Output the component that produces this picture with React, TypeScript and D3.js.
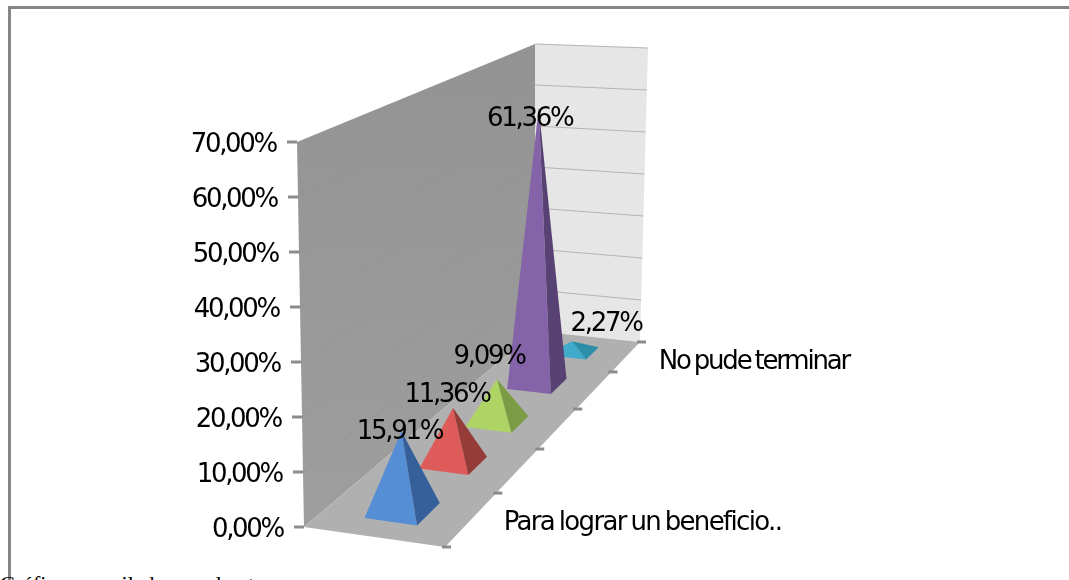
import React from "react";
import * as d3 from "d3";

const valueTicks = [0, 10, 20, 30, 40, 50, 60, 70];
const categories = ["Para lograr un beneficio..", "", "", "", "No pude terminar"];
const values = [15.91, 11.36, 9.09, 61.36, 2.27];
const valueLabels = ["15,91%", "11,36%", "9,09%", "61,36%", "2,27%"];
const frontColors = ["#558ed5", "#dd5c5a", "#aed465", "#8464a8", "#3fabcb"];
const sideColors = ["#36619a", "#953a38", "#7b9b45", "#594273", "#2e8ea9"];
const tickFmt = (v: number) => d3.format(".2f")(v).replace(".", ",") + "%";

// perspective of the category axis: fraction of depth per category boundary
const depth = d3.scaleLinear().domain([0, 1, 2, 3, 4, 5]).range([0, 0.263, 0.478, 0.673, 0.854, 1]);
const across = d3.scaleLinear().domain([0, 1]).range([0, 1]);
const height = d3.scaleLinear().domain([0, 70]).range([0, 1]);

type P = [number, number];
// corners of the plot box: [depth][across][height]
const box: P[][][] = [
  [[[304, 527], [297, 142]], [[445, 547], [441, 246]]],
  [[[535, 331], [535, 44]], [[640, 342], [648, 48]]],
];
const lerp = (a: P, b: P, t: number): P => [a[0] + (b[0] - a[0]) * t, a[1] + (b[1] - a[1]) * t];
function project(cat: number, side: number, val: number): P {
  const u = depth(cat), v = across(side), w = height(val);
  const f = (i: number, j: number) => lerp(box[i][j][0], box[i][j][1], w);
  return lerp(lerp(f(0, 0), f(0, 1), v), lerp(f(1, 0), f(1, 1), v), u);
}
const poly = (pts: P[]) => d3.line()(pts) + "Z";

const F = "'DejaVu Sans', sans-serif";
const TICK = "#8c8c8c";
const APEX = 1.04;
const labelDx = [-2, -6, -8, -9, 34];
const labelDy = [8, -6, -15, 18, -10];

export default function App() {
  const n = categories.length;
  const halfU = 0.21, halfV = 0.19;
  const pyramids = values.map((v, k) => {
    const c = k + 0.5;
    return {
      k,
      apex: project(c, 0.5, v * APEX),
      fl: project(c - halfU, 0.5 - halfV, 0),
      fr: project(c - halfU, 0.5 + halfV, 0),
      br: project(c + halfU, 0.5 + halfV, 0),
    };
  });
  return (
    <svg width={1069} height={580} style={{ position: "absolute", left: 0, top: 0, display: "block" }}>
      <defs>
        <filter id="soft" x="-5%" y="-5%" width="110%" height="110%">
          <feGaussianBlur stdDeviation="0.6" />
        </filter>
        <filter id="softText" x="-5%" y="-20%" width="110%" height="140%">
          <feGaussianBlur stdDeviation="0.4" />
        </filter>
        <linearGradient id="wall" x1="0" y1="0" x2="0" y2="1">
          <stop offset="0" stopColor="#939393" />
          <stop offset="1" stopColor="#9e9e9e" />
        </linearGradient>
      </defs>
      <path d="M9.5,580V7.5H1069" fill="none" stroke="#868686" strokeWidth={3} />
      <text x={0} y={591} fontFamily="'Liberation Serif', serif" fontSize={22}>Gráfico compilado por el autor</text>
      <g filter="url(#soft)">
        <path d={poly([project(0, 0, 0), project(0, 0, 70), project(5, 0, 70), project(5, 0, 0)])} fill="url(#wall)" />
        <path d={poly([project(5, 0, 0), project(5, 0, 70), project(5, 1, 70), project(5, 1, 0)])} fill="#e6e6e6" />
        <path d={poly([project(0, 0, 0), project(0, 1, 0), project(5, 1, 0), project(5, 0, 0)])} fill="#b0b0b0" />
        {valueTicks.map((t) => (
          <g key={t}>
            {t > 0 && t < 70 && <path d={d3.line()([project(0, 0, t), project(5, 0, t)])!} stroke="#919191" strokeWidth={0.5} fill="none" />}
            {t > 0 && <path d={d3.line()([project(5, 0, t), project(5, 1, t)])!} stroke="#b4b4b4" strokeWidth={1} fill="none" />}
            <path d={d3.line()([[project(0, 0, t)[0] - 10, project(0, 0, t)[1]], project(0, 0, t)])!} stroke={TICK} strokeWidth={3} fill="none" />
          </g>
        ))}
        {d3.range(n + 1).map((i) => {
          const p = project(i, 1, 0);
          return <path key={i} d={`M${p[0] - 3},${p[1]}H${p[0] + 6}`} stroke={TICK} strokeWidth={3} fill="none" />;
        })}
        {[...pyramids].reverse().map(({ k, apex, fl, fr, br }) => (
          <g key={k}>
            <path d={poly([fl, fr, apex])} fill={frontColors[k]} />
            <path d={poly([fr, br, apex])} fill={sideColors[k]} />
          </g>
        ))}
      </g>
      <g fontFamily={F} fontSize={26} fill="#000" letterSpacing={-2.3} filter="url(#softText)">
        {valueTicks.map((t) => {
          const p = project(0, 0, t);
          return <text key={t} x={p[0] - 21} y={p[1] + 10} textAnchor="end">{tickFmt(t)}</text>;
        })}
        {pyramids.map(({ k, apex }) => (
          <text key={k} x={apex[0] + labelDx[k]} y={apex[1] + labelDy[k]} textAnchor="middle">{valueLabels[k]}</text>
        ))}
        {categories.map((c, i) => {
          if (!c) return null;
          const p = project(i + 0.5, 1, 0);
          return <text key={i} x={p[0] + 33} y={p[1] + (i === 0 ? 10 : 12)} letterSpacing={i === 0 ? -1.65 : -2.2} wordSpacing={-2}>{c}</text>;
        })}
      </g>
    </svg>
  );
}
